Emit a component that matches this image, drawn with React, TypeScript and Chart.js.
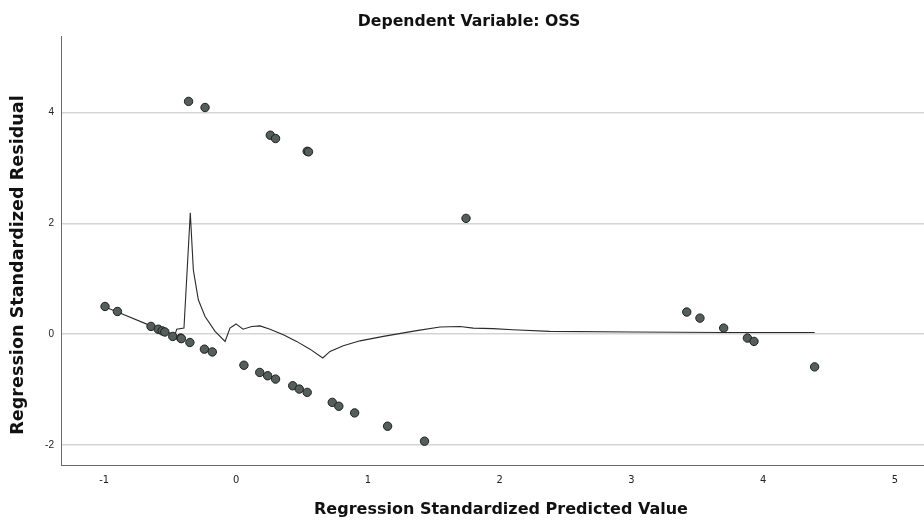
import React, { useEffect, useRef } from "react";
import { Chart, registerables } from "chart.js";

Chart.register(...registerables);

// Standardized predicted values (x) and standardized residuals (y) per case
const predicted: number[] = [
  -0.994, -0.9, -0.645, -0.59, -0.56, -0.54, -0.48, -0.42, -0.415, -0.35,
  -0.24, -0.18, 0.06, 0.18, 0.24, 0.3, 0.43, 0.48, 0.54, 0.73, 0.78, 0.9,
  1.15, 1.43, -0.36, -0.235, 0.26, 0.3, 0.54, 0.55, 1.745, 3.42, 3.52, 3.7,
  3.88, 3.93, 4.39,
];
const residual: number[] = [
  0.5, 0.41, 0.14, 0.09, 0.06, 0.04, -0.04, -0.07, -0.08, -0.15, -0.27,
  -0.32, -0.56, -0.69, -0.75, -0.81, -0.93, -0.99, -1.05, -1.23, -1.3,
  -1.42, -1.66, -1.93, 4.2, 4.09, 3.59, 3.53, 3.3, 3.29, 2.09, 0.4, 0.29,
  0.11, -0.07, -0.13, -0.59,
];

// Loess fit line through the residuals
const fitX: number[] = [
  -0.994, -0.9, -0.645, -0.54, -0.463, -0.45, -0.395, -0.347, -0.324,
  -0.286, -0.235, -0.159, -0.083, -0.046, -0.008, 0.0, 0.053, 0.119, 0.182,
  0.258, 0.359, 0.46, 0.561, 0.658, 0.713, 0.814, 0.941, 1.118, 1.371,
  1.548, 1.7, 1.8, 1.95, 2.1, 2.38, 3.0, 3.7, 4.39,
];
const fitY: number[] = [
  0.49, 0.4, 0.15, 0.05, -0.01, 0.09, 0.11, 2.19, 1.16, 0.62, 0.32, 0.05,
  -0.13, 0.11, 0.17, 0.186, 0.09, 0.14, 0.15, 0.09, -0.01, -0.13, -0.27,
  -0.43, -0.31, -0.21, -0.12, -0.04, 0.065, 0.13, 0.14, 0.11, 0.1, 0.08,
  0.05, 0.04, 0.03, 0.03,
];

const xTicks: number[] = [-1, 0, 1, 2, 3, 4, 5];
const yTicks: number[] = [-2, 0, 2, 4];

const chartTitle = "Dependent Variable: OSS";
const xTitle = "Regression Standardized Predicted Value";
const yTitle = "Regression Standardized Residual";

const titleFont = '"DejaVu Sans", "Liberation Sans", sans-serif';

const titlesPlugin = {
  id: "spssTitles",
  afterDraw(chart: Chart) {
    const { ctx } = chart;
    ctx.save();
    ctx.fillStyle = "#111";
    ctx.textAlign = "center";
    ctx.textBaseline = "middle";
    ctx.font = `bold 15.7px ${titleFont}`;
    ctx.fillText(chartTitle, 469, 22);
    ctx.font = `bold 16px ${titleFont}`;
    ctx.fillText(xTitle, 501, 510);
    ctx.translate(18, 265);
    ctx.rotate(-Math.PI / 2);
    ctx.font = `bold 17.6px ${titleFont}`;
    ctx.fillText(yTitle, 0, 0);
    ctx.restore();
  },
};

export default function App() {
  const canvasRef = useRef<HTMLCanvasElement | null>(null);

  useEffect(() => {
    document.body.style.margin = "0";
    const canvas = canvasRef.current;
    if (!canvas) return;
    const chart = new Chart(canvas, {
      type: "scatter",
      data: {
        datasets: [
          {
            label: "Fit",
            data: fitX.map((x, i) => ({ x, y: fitY[i] })),
            showLine: true,
            borderColor: "#2a2a2a",
            borderWidth: 1.1,
            pointRadius: 0,
            tension: 0,
            order: 1,
          },
          {
            label: "Residual",
            data: predicted.map((x, i) => ({ x, y: residual[i] })),
            backgroundColor: "rgb(84, 94, 90)",
            borderColor: "rgb(30, 32, 31)",
            borderWidth: 1,
            pointRadius: 4.2,
            order: 0,
          },
        ],
      },
      options: {
        animation: false,
        responsive: false,
        devicePixelRatio: 1,
        layout: { autoPadding: false, padding: { top: 36, right: 0, left: 0, bottom: 0 } },
        plugins: {
          legend: { display: false },
          tooltip: { enabled: false },
          title: { display: false },
        },
        scales: {
          x: {
            type: "linear",
            min: -1.328,
            max: 5.22,
            afterBuildTicks: (scale: any) => {
              scale.ticks = xTicks.map((v) => ({ value: v }));
            },
            afterFit: (scale: any) => {
              scale.height = 56;
              scale.paddingLeft = 0;
              scale.paddingRight = 0;
            },
            grid: { display: false, drawTicks: false },
            border: { display: true, color: "#6a6a6a", width: 1 },
            ticks: {
              padding: 9,
              color: "#222",
              font: { family: '"Liberation Sans Narrow", "DejaVu Sans Condensed", sans-serif', size: 11 },
              callback: (v: any) => String(v),
            },
          },
          y: {
            type: "linear",
            min: -2.36,
            max: 5.38,
            afterBuildTicks: (scale: any) => {
              scale.ticks = yTicks.map((v) => ({ value: v }));
            },
            afterFit: (scale: any) => {
              scale.width = 61;
              scale.paddingTop = 0;
              scale.paddingBottom = 0;
            },
            grid: { display: true, color: "#d4d4d4", lineWidth: 1.4, drawTicks: false },
            border: { display: true, color: "#6a6a6a", width: 1 },
            ticks: {
              padding: 7,
              color: "#222",
              font: { family: '"Liberation Sans", Arial, sans-serif', size: 10 },
              callback: (v: any) => String(v),
            },
          },
        },
      },
      plugins: [titlesPlugin],
    });
    return () => chart.destroy();
  }, []);

  return (
    <div style={{ position: "absolute", left: 0, top: 0, width: 924, height: 521, background: "#fff" }}>
      <canvas ref={canvasRef} width={924} height={521} />
    </div>
  );
}
